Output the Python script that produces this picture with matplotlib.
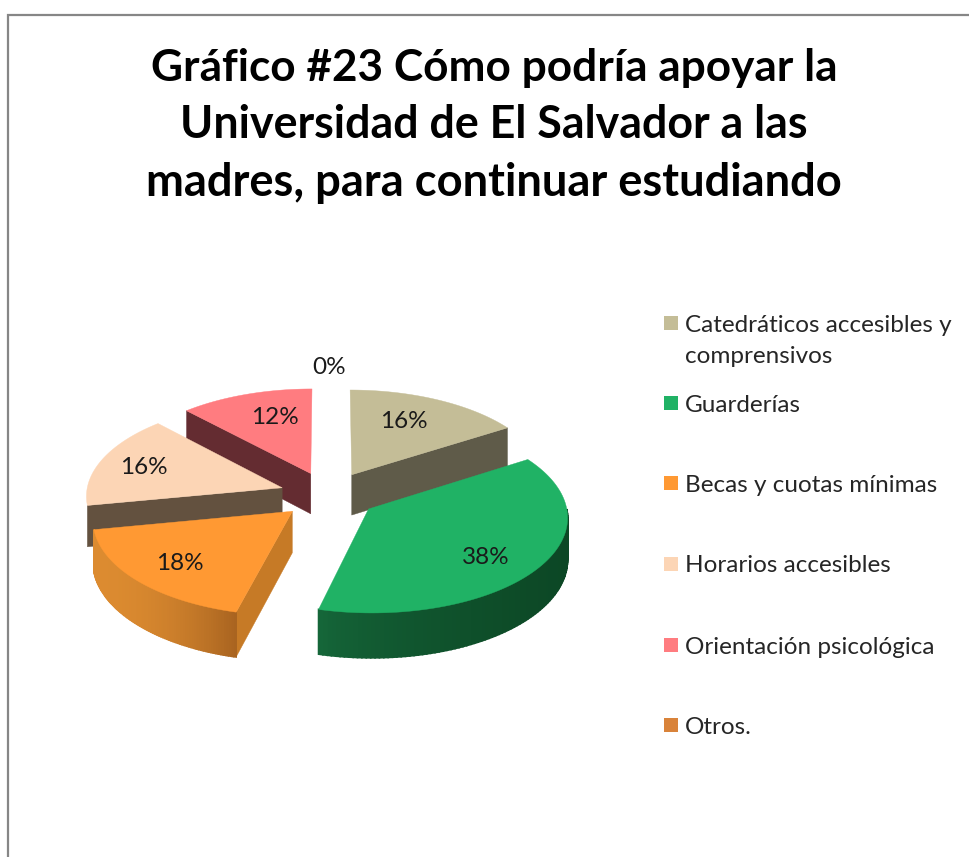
import numpy as np
import matplotlib
matplotlib.use('Agg')
import matplotlib.pyplot as plt
from matplotlib.colors import to_rgb

title_lines = ['Gráfico #23 Cómo podría apoyar la',
               'Universidad de El Salvador a las',
               'madres, para continuar estudiando']
categories = ['Catedráticos accesibles y\ncomprensivos', 'Guarderías', 'Becas y cuotas mínimas',
              'Horarios accesibles', 'Orientación psicológica', 'Otros.']
values = [16, 38, 18, 16, 12, 0]
pct_labels = ['16%', '38%', '18%', '16%', '12%', '0%']

top_colors = ['#C4BD97', '#20B265', '#FF9933', '#FCD5B5', '#FF7C80', '#D9833A']
side_colors = ['#5F5B49', '#0D4A27', '#C67A26', '#63513F', '#642C31', '#D9833A']
rim_left = ['#5F5B49', '#16693B', '#DC8B30', '#63513F', '#642C31', '#D9833A']
rim_right = ['#5F5B49', '#0C4725', '#A96420', '#63513F', '#642C31', '#D9833A']
rim_power = [1, 0.6, 2.0, 1, 1, 1]

# pie projection, in pixels
cx, cy = 328.5, 495
rx, ry = 196, 94
persp = 0.075
explode = 0.25
depth = 41

label_pos = [(404, 421), (486, 558), (180, 564), (144, 467), (275, 417), (329, 367)]
legend_y = [323, 403, 483, 564, 645, 725]
title_base = [81, 138, 196]
title_size = [31.8, 32.2, 32.6]
draw_order = [4, 0, 3, 2, 1]  # back to front


def project(theta, r, offset_theta, drop=0.0):
    # theta in degrees clockwise from 12 o'clock
    t = np.radians(theta)
    o = np.radians(offset_theta)
    X = r * np.sin(t) + explode * np.sin(o)
    f = -r * np.cos(t) - explode * np.cos(o)
    s = 1 / (1 - persp * f)
    return cx + rx * X * s, cy + ry * f * s + drop * depth * s


def draw_slice(ax, start, end, top, side, left, right, power):
    mid = (start + end) / 2
    thetas = np.linspace(start, end, 120)

    # straight walls that face the viewer
    for edge, normal in ((start, start - 90), (end, end + 90)):
        if np.cos(np.radians(normal)) < 0:
            x0, y0 = project(edge, 0, mid)
            x1, y1 = project(edge, 1, mid)
            x2, y2 = project(edge, 1, mid, 1)
            x3, y3 = project(edge, 0, mid, 1)
            ax.fill([x0, x1, x2, x3], [y0, y1, y2, y3], color=side, lw=0.3, zorder=1)

    # outer rim, front part only, shaded along x
    a = max(start, 90)
    b = min(end, 270)
    if b - a > 15:
        rim = np.linspace(a, b, 90)
        xs = project(rim, 1, mid)[0]
        c0, c1 = np.array(to_rgb(left)), np.array(to_rgb(right))
        for i in range(len(rim) - 1):
            x_a, y_a = project(rim[i], 1, mid)
            x_b, y_b = project(rim[i + 1], 1, mid)
            x_c, y_c = project(rim[i + 1], 1, mid, 1)
            x_d, y_d = project(rim[i], 1, mid, 1)
            w = ((x_a - xs.min()) / (xs.max() - xs.min())) ** power
            ax.fill([x_a, x_b, x_c, x_d], [y_a, y_b, y_c, y_d],
                    color=c0 + (c1 - c0) * w, lw=1.2, zorder=1)

    # top face
    xt, yt = project(thetas, 1, mid)
    tx, ty = project(start, 0, mid)
    ax.fill(np.r_[tx, xt], np.r_[ty, yt], color=top, lw=0.3, zorder=1)


plt.rcParams['font.family'] = ['Lato', 'DejaVu Sans']
fig = plt.figure(figsize=(9.69, 8.57), dpi=100)
ax = fig.add_axes([0, 0, 1, 1])
ax.set_xlim(0, 969)
ax.set_ylim(857, 0)
ax.axis('off')

# frame of the chart, open at the right and at the bottom
ax.plot([8, 8, 969], [857, 14.5, 14.5], color='#868686', lw=1.6, solid_joinstyle='miter')

angles = np.r_[0, np.cumsum(values)] * 360 / sum(values)
for i in draw_order:
    draw_slice(ax, angles[i], angles[i + 1], top_colors[i], side_colors[i],
               rim_left[i], rim_right[i], rim_power[i])

for lab, (x, y) in zip(pct_labels, label_pos):
    ax.text(x, y, lab, fontsize=17.5, color='#1a1a1a', ha='center', va='center', zorder=3)

for y, size, line in zip(title_base, title_size, title_lines):
    ax.text(494, y, line, fontsize=size, fontweight='bold', color='black', ha='center', va='baseline')

for i, name in enumerate(categories):
    ax.fill([664, 678, 678, 664],
            [legend_y[i] - 7, legend_y[i] - 7, legend_y[i] + 7, legend_y[i] + 7],
            color=top_colors[i], lw=0)
    for j, part in enumerate(name.split('\n')):
        ax.text(685, legend_y[i] + 8.5 + j * 31, part, fontsize=17.5, color='#262626', ha='left', va='baseline')

fig.savefig('out.png', dpi=100, facecolor='white')
